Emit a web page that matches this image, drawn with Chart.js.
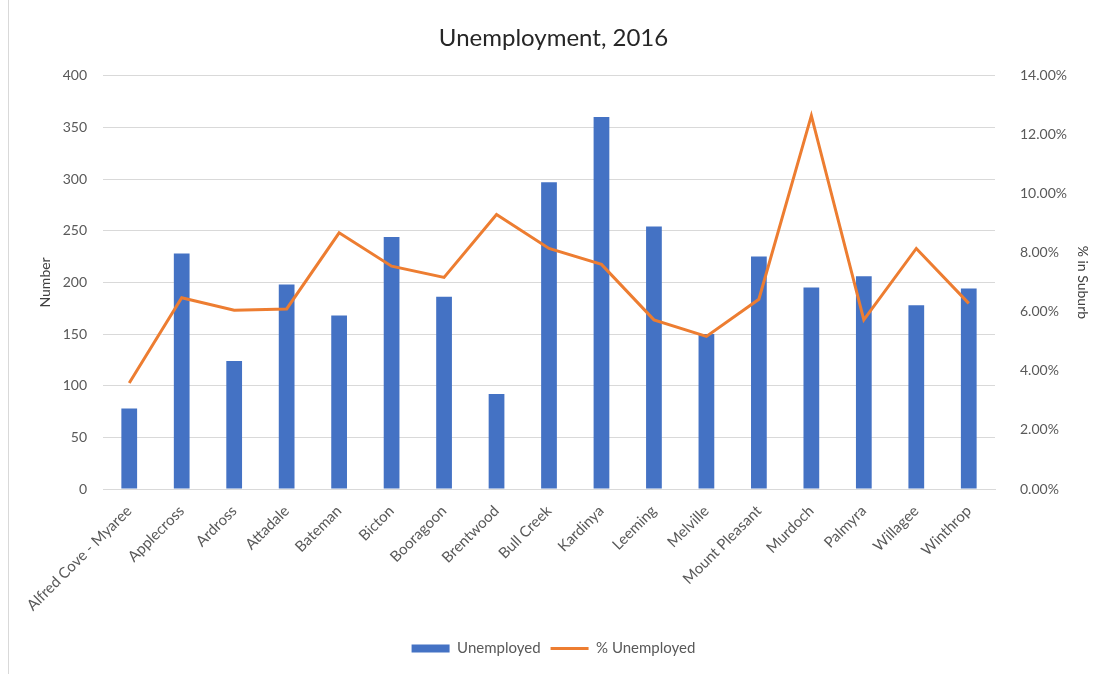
<!DOCTYPE html>
<html>
<head>
<meta charset="utf-8">
<script src="https://cdn.jsdelivr.net/npm/chart.js@4"></script>
<style>
    body { margin: 0; background: #fff; }
    #wrap { position: absolute; left: 0; top: 0; width: 1107px; height: 674px; }
    #edge { position: absolute; left: 8px; top: 0; width: 1px; height: 674px; background: #d9d9d9; }
</style>
</head>
<body>
<div id="wrap"><canvas id="unemp_chart" width="1107" height="674"></canvas></div>
<div id="edge"></div>
<script>
var suburbs = ["Alfred Cove - Myaree", "Applecross", "Ardross", "Attadale", "Bateman", "Bicton",
    "Booragoon", "Brentwood", "Bull Creek", "Kardinya", "Leeming", "Melville", "Mount Pleasant",
    "Murdoch", "Palmyra", "Willagee", "Winthrop"]
var unemployed = [78, 228, 124, 198, 168, 244, 186, 92, 297, 360, 254, 150, 225, 195, 206, 178, 194]
var pctUnemployed = [3.59, 6.48, 6.06, 6.1, 8.68, 7.55, 7.17, 9.3, 8.15, 7.61, 5.73, 5.17, 6.43, 12.65, 5.73, 8.15, 6.29]
var leftTicks = [0, 50, 100, 150, 200, 250, 300, 350, 400]
var rightTicks = [0, 2, 4, 6, 8, 10, 12, 14]

var textColor = '#595959'
var fontName = 'Lato, "Open Sans", sans-serif'

function drawGraph() {
    var ctx = document.getElementById('unemp_chart').getContext('2d')
    var myChart = new Chart(ctx, {
        data: {
            labels: suburbs,
            datasets: [{
                type: 'bar',
                label: 'Unemployed',
                data: unemployed,
                backgroundColor: '#4472C4',
                borderWidth: 0,
                barPercentage: 0.3,
                categoryPercentage: 1,
                yAxisID: 'y',
                order: 2
            }, {
                type: 'line',
                label: '% Unemployed',
                data: pctUnemployed,
                borderColor: '#ED7D31',
                backgroundColor: '#ED7D31',
                borderWidth: 3,
                pointRadius: 0,
                tension: 0,
                yAxisID: 'y1',
                order: 1
            }]
        },
        options: {
            responsive: false,
            animation: false,
            layout: { padding: { left: 0, right: 0, top: 0, bottom: 8 } },
            plugins: {
                tooltip: { enabled: false },
                title: {
                    display: true,
                    text: 'Unemployment, 2016',
                    color: '#262626',
                    font: { family: fontName, size: 24, weight: 'normal' },
                    padding: { top: 24, bottom: 23 }
                },
                legend: {
                    position: 'bottom',
                    labels: {
                        color: textColor,
                        font: { family: fontName, size: 15 },
                        usePointStyle: true,
                        pointStyleWidth: 38,
                        boxHeight: 8,
                        padding: 10,
                        sort: function (a, b) { return a.datasetIndex - b.datasetIndex },
                        generateLabels: function (chart) {
                            var items = Chart.defaults.plugins.legend.labels.generateLabels(chart)
                            items.forEach(function (item) {
                                item.pointStyle = item.datasetIndex == 0 ? 'rect' : 'line'
                                item.lineWidth = item.datasetIndex == 0 ? 0 : 3
                            })
                            return items
                        }
                    }
                }
            },
            scales: {
                x: {
                    grid: { display: false },
                    border: { color: '#d9d9d9' },
                    ticks: {
                        color: textColor,
                        font: { family: fontName, size: 15 },
                        maxRotation: 45,
                        minRotation: 45,
                        autoSkip: false,
                        padding: 5
                    },
                    afterFit: function (scale) { scale.height = 142 }
                },
                y: {
                    position: 'left',
                    min: 0,
                    max: 400,
                    afterBuildTicks: function (scale) {
                        scale.ticks = leftTicks.map(function (v) { return { value: v } })
                    },
                    grid: { color: '#d9d9d9', drawTicks: false },
                    border: { display: false },
                    ticks: {
                        color: textColor,
                        font: { family: fontName, size: 14 },
                        padding: 16
                    },
                    title: {
                        display: true,
                        text: 'Number',
                        color: '#404040',
                        font: { family: fontName, size: 14 },
                        padding: { top: 37, bottom: 0 }
                    },
                    afterFit: function (scale) { scale.width = 103 }
                },
                y1: {
                    position: 'right',
                    min: 0,
                    max: 14,
                    afterBuildTicks: function (scale) {
                        scale.ticks = rightTicks.map(function (v) { return { value: v } })
                    },
                    grid: { display: false },
                    border: { display: false },
                    ticks: {
                        color: textColor,
                        font: { family: fontName, size: 14 },
                        padding: 17,
                        callback: function (v) { return v.toFixed(2) + '%' }
                    },
                    title: {
                        display: true,
                        text: '% in Suburb',
                        color: '#404040',
                        font: { family: fontName, size: 14 },
                        padding: { top: 16, bottom: 0 }
                    },
                    afterFit: function (scale) { scale.width = 112 }
                }
            }
        }
    })
}

drawGraph()
</script>
</body>
</html>
